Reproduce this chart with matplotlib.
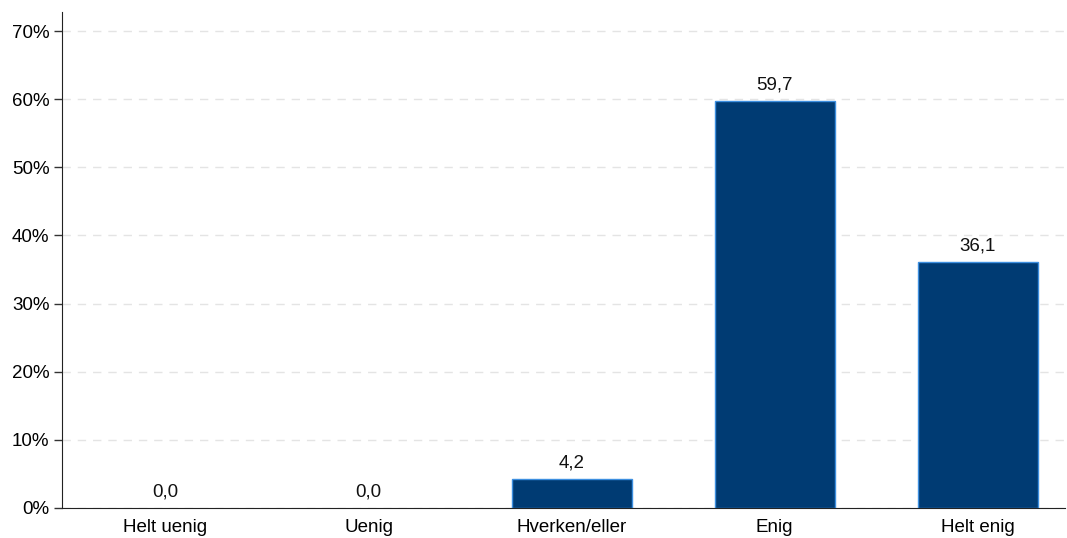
import matplotlib
matplotlib.use("Agg")
import matplotlib.pyplot as plt
from matplotlib.ticker import FuncFormatter

plt.rcParams['font.family'] = ['Liberation Sans', 'DejaVu Sans']

categories = ["Helt uenig", "Uenig", "Hverken/eller", "Enig", "Helt enig"]
values = [0.0, 0.0, 4.2, 59.7, 36.1]
yticks = [0, 10, 20, 30, 40, 50, 60, 70]

fig = plt.figure(figsize=(10.67, 5.38), dpi=100)
ax = fig.add_axes([62 / 1067, 30 / 538, 1003 / 1067, 496 / 538])

x = list(range(len(categories)))
edge_widths = [1.0 if v > 0 else 0.0 for v in values]
ax.bar(x, values, width=0.59, color="#003b73", edgecolor="#3d8fe0",
       linewidth=edge_widths, zorder=3)

for xi, v in zip(x, values):
    ax.text(xi, v + 1.1, f"{v:.1f}".replace(".", ","), ha="center", va="bottom",
            fontsize=13.5, color="#111111")

ax.set_xlim(-0.51, 4.43)
ax.set_ylim(0, 72.8)
ax.set_yticks(yticks)
ax.yaxis.set_major_formatter(FuncFormatter(lambda v, p: f"{int(v)}%"))
ax.set_xticks(x)
ax.set_xticklabels(categories)
ax.tick_params(axis="y", labelsize=13.5, length=6, width=1, color="#333333", pad=3)
ax.tick_params(axis="x", labelsize=13.5, length=0, pad=8)

ax.grid(axis="y", color="#e4e4e4", linestyle=(0, (6, 5)), linewidth=1.0, zorder=0)
for side in ("top", "right"):
    ax.spines[side].set_visible(False)
for side in ("left", "bottom"):
    ax.spines[side].set_color("#222222")
    ax.spines[side].set_zorder(5)

fig.savefig("out.png", dpi=100)
